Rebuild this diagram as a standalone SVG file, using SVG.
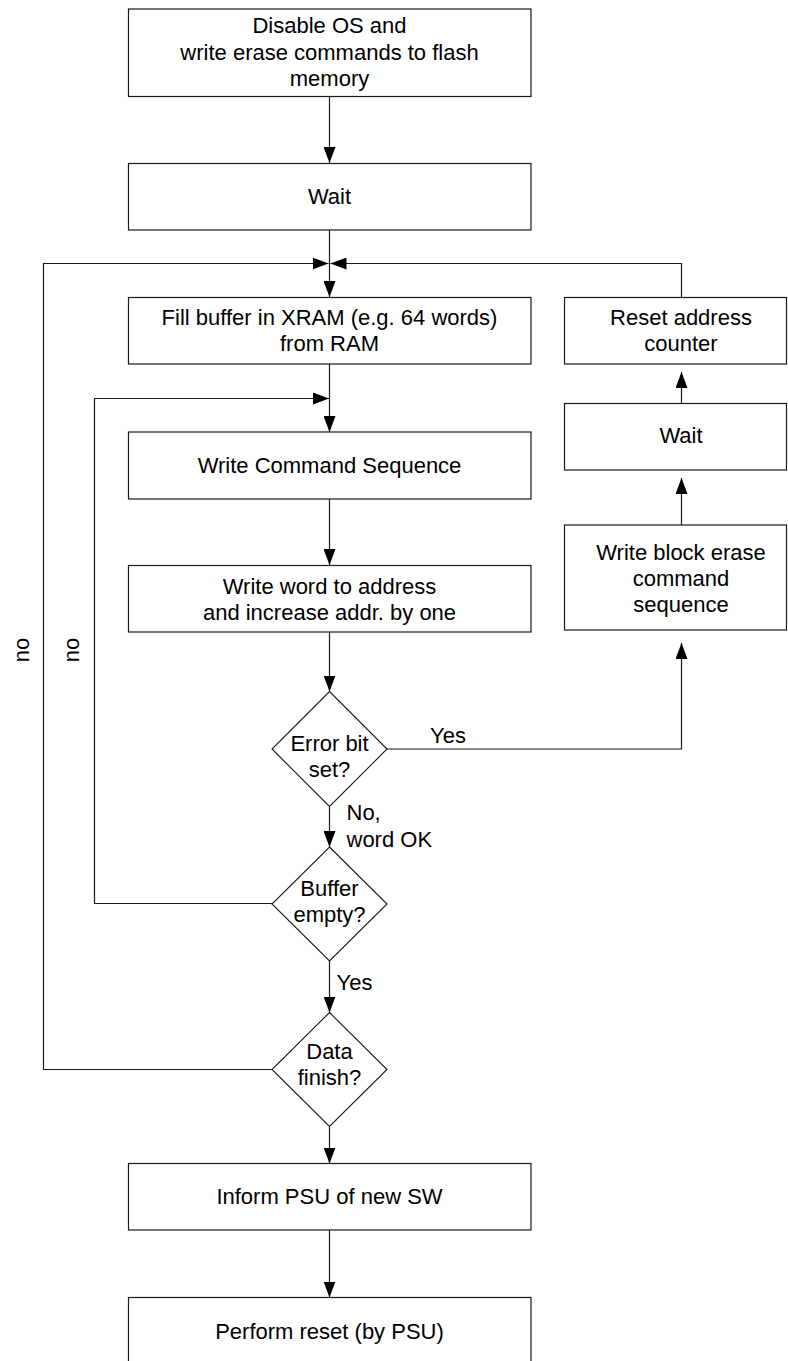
<svg xmlns="http://www.w3.org/2000/svg" width="788" height="1361" viewBox="0 0 788 1361">
  <style>
    .box { fill: #ffffff; stroke: #1a1a1a; stroke-width: 1.2; }
    .dia { fill: #ffffff; stroke: #1a1a1a; stroke-width: 1.1; }
    .lbl { font-family: "Liberation Sans", Arial, sans-serif; font-size: 22px; fill: #000000; text-anchor: middle; }
    .tag { font-family: "Liberation Sans", Arial, sans-serif; font-size: 22px; fill: #000000; text-anchor: start; }
    .wire { fill: none; stroke: #1a1a1a; stroke-width: 1.2; }
    .wire.arrow { marker-end: url(#head); }
  </style>
  <defs>
    <marker id="head" markerUnits="userSpaceOnUse" markerWidth="16" markerHeight="12" viewBox="0 0 16 12" refX="16" refY="6" orient="auto">
      <path d="M0,0 L16,6 L0,12 Z" fill="#000000"/>
    </marker>
  </defs>
  <rect width="788" height="1361" fill="#ffffff"/>

  <!-- connectors -->
  <g id="connectors">
    <path class="wire arrow" d="M329.5,97 V163"/>
    <path class="wire arrow" d="M329.5,230 V297"/>
    <path class="wire arrow" d="M272,1069.5 H43.5 V263.5 H328.5"/>
    <path class="wire arrow" d="M681.5,297.5 V263.5 H330.5"/>
    <path class="wire arrow" d="M329.5,364 V432"/>
    <path class="wire arrow" d="M272.5,903.5 H94.5 V398.5 H329"/>
    <path class="wire arrow" d="M329.5,499 V565"/>
    <path class="wire arrow" d="M329.5,632 V691.5"/>
    <path class="wire arrow" d="M386.5,749 H681.5 V643"/>
    <path class="wire arrow" d="M681.5,525 V478"/>
    <path class="wire arrow" d="M681.5,403 V372"/>
    <path class="wire arrow" d="M329.5,806.5 V847"/>
    <path class="wire arrow" d="M329.5,961 V1012.5"/>
    <path class="wire arrow" d="M329.5,1126.5 V1163.5"/>
    <path class="wire arrow" d="M329.5,1230 V1297.5"/>
    <text class="tag" x="430" y="743">Yes</text>
    <text class="tag" x="346.5" y="820">No,</text>
    <text class="tag" x="346.5" y="846.5">word OK</text>
    <text class="tag" x="336.5" y="990">Yes</text>
    <text class="lbl" transform="translate(28.5,650) rotate(-90)">no</text>
    <text class="lbl" transform="translate(78.5,650) rotate(-90)">no</text>
  </g>

  <!-- nodes -->
  <g id="n-disable">
    <rect class="box" x="128.5" y="9" width="402.5" height="87.5"/>
    <text class="lbl" x="329.5" y="33">Disable OS and</text>
    <text class="lbl" x="329.5" y="59.5">write erase commands to flash</text>
    <text class="lbl" x="329.5" y="86">memory</text>
  </g>
  <g id="n-wait1">
    <rect class="box" x="128.5" y="163.5" width="402.5" height="66.5"/>
    <text class="lbl" x="329.5" y="204">Wait</text>
  </g>
  <g id="n-fill">
    <rect class="box" x="128.5" y="297.5" width="402.5" height="66.5"/>
    <text class="lbl" x="329.5" y="324.5">Fill buffer in XRAM (e.g. 64 words)</text>
    <text class="lbl" x="329.5" y="350.5">from RAM</text>
  </g>
  <g id="n-writecmd">
    <rect class="box" x="128.5" y="432" width="402.5" height="67"/>
    <text class="lbl" x="329.5" y="473">Write Command Sequence</text>
  </g>
  <g id="n-writeword">
    <rect class="box" x="128.5" y="565.5" width="402.5" height="66.5"/>
    <text class="lbl" x="329.5" y="593.5">Write word to address</text>
    <text class="lbl" x="329.5" y="620">and increase addr. by one</text>
  </g>
  <g id="n-error">
    <polygon class="dia" points="329.5,691.5 387,749 329.5,806.5 272,749"/>
    <text class="lbl" x="329.5" y="750.5">Error bit</text>
    <text class="lbl" x="329.5" y="777">set?</text>
  </g>
  <g id="n-buffer">
    <polygon class="dia" points="329.5,847 387,904 329.5,961 272,904"/>
    <text class="lbl" x="329.5" y="896">Buffer</text>
    <text class="lbl" x="329.5" y="922">empty?</text>
  </g>
  <g id="n-data">
    <polygon class="dia" points="329.5,1012.5 387,1069.5 329.5,1126.5 272,1069.5"/>
    <text class="lbl" x="329.5" y="1058.5">Data</text>
    <text class="lbl" x="329.5" y="1085">finish?</text>
  </g>
  <g id="n-inform">
    <rect class="box" x="128.5" y="1163.5" width="402.5" height="66.5"/>
    <text class="lbl" x="329.5" y="1203.5">Inform PSU of new SW</text>
  </g>
  <g id="n-reset">
    <rect class="box" x="128.5" y="1297.5" width="402.5" height="67"/>
    <text class="lbl" x="329.5" y="1338.5">Perform reset (by PSU)</text>
  </g>
  <g id="n-resetaddr">
    <rect class="box" x="564.5" y="297.5" width="222" height="66.5"/>
    <text class="lbl" x="681" y="324.5">Reset address</text>
    <text class="lbl" x="681" y="350.5">counter</text>
  </g>
  <g id="n-wait2">
    <rect class="box" x="564.5" y="403.5" width="222" height="66.5"/>
    <text class="lbl" x="681" y="443">Wait</text>
  </g>
  <g id="n-blockerase">
    <rect class="box" x="564.5" y="525" width="222" height="105"/>
    <text class="lbl" x="681" y="559.5">Write block erase</text>
    <text class="lbl" x="681" y="585.5">command</text>
    <text class="lbl" x="681" y="611.5">sequence</text>
  </g>
</svg>
